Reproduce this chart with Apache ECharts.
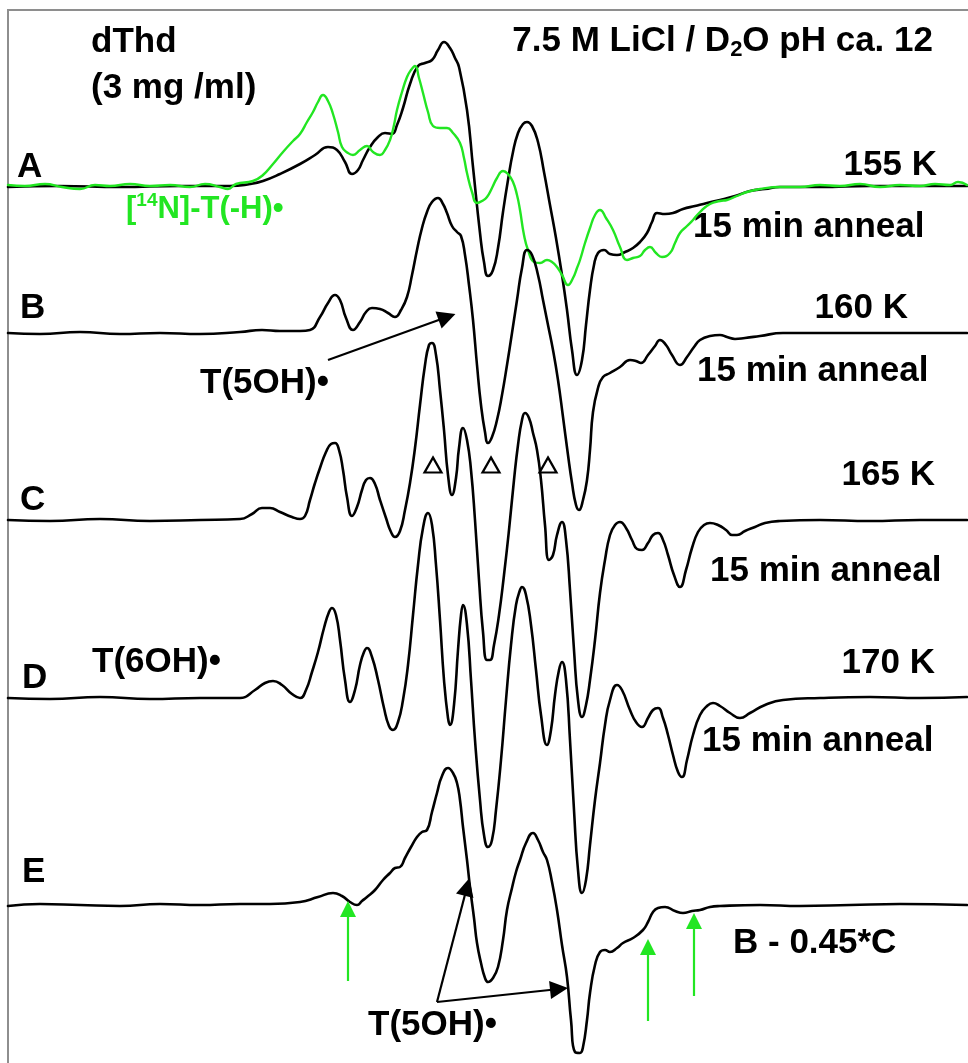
<!DOCTYPE html>
<html>
<head>
<meta charset="utf-8">
<script src="https://cdn.jsdelivr.net/npm/echarts@6/dist/echarts.min.js"></script>
<style>
  html, body { margin: 0; padding: 0; background: #fff; }
  #chart { width: 968px; height: 1063px; }
</style>
</head>
<body>
<div id="chart"></div>
<script>
// spectra: [field position, plotted offset]
const traceA = [[8,187],[60,186],[120,187],[180,186],[230,186],[250,184],[263,181],[280,174],[300,164],[315,155],[328,147],[337,150],[345,162],[352,174],[358,170],[363,160],[370,147],[378,137],[385,133],[392,134],[397,125],[403,108],[410,84],[418,66],[425,63],[432,60],[438,50],[444,42],[450,48],[455,58],[459,67],[467,110],[473,167],[480,233],[484,262],[488,276],[493,270],[498,248],[503,212],[508,180],[513,152],[518,133],[523,124],[527,122],[532,126],[538,142],[544,172],[550,205],[556,238],[562,275],[567,310],[572,350],[577,375],[582,360],[586,325],[590,290],[594,265],[598,253],[604,250],[610,254],[617,255],[625,252],[633,248],[640,242],[647,233],[652,222],[657,213],[665,214],[673,213],[683,209],[695,206],[707,203],[720,200],[735,196],[750,191],[765,189],[780,187],[820,187],[870,186],[920,186],[967,186]];

const traceAGreen = [[8,185],[25,186],[45,184],[62,187],[80,189],[95,185],[110,186],[130,184],[150,186],[170,185],[190,187],[205,184],[220,187],[228,189],[236,184],[253,181],[263,175],[273,164],[283,152],[293,141],[300,134],[307,122],[313,112],[318,102],[323,95],[328,101],[333,114],[338,132],[342,147],[348,153],[353,155],[360,150],[367,146],[373,152],[380,155],[385,150],[390,140],[394,125],[397,110],[402,92],[407,77],[411,70],[415,66],[419,78],[423,93],[428,112],[433,126],[440,128],[447,128],[453,133],[460,143],[464,158],[467,173],[472,192],[477,203],[482,201],[487,197],[492,188],[497,178],[503,171],[508,174],[513,182],[517,195],[520,210],[524,235],[528,250],[534,262],[540,263],[547,260],[552,262],[557,267],[562,275],[568,285],[573,278],[577,268],[580,260],[585,243],[590,228],[595,215],[600,210],[606,218],[613,230],[620,247],[627,260],[633,258],[640,256],[645,250],[650,247],[656,253],[662,257],[670,253],[675,243],[680,233],[687,226],[693,220],[700,212],[710,204],[720,201],[727,200],[737,196],[747,192],[760,189],[780,187],[800,187],[820,185],[840,186],[860,184],[880,187],[900,185],[920,186],[935,184],[950,185],[958,182],[967,185]];

const traceB = [[8,333],[40,334],[80,332],[120,334],[160,333],[200,334],[240,332],[262,330],[280,331],[300,331],[310,330],[320,317],[328,303],[335,295],[340,300],[346,318],[353,330],[360,322],[366,312],[372,308],[380,309],[388,313],[395,317],[401,310],[407,297],[412,275],[417,250],[422,228],[427,212],[432,202],[438,198],[443,204],[447,213],[452,226],[457,232],[461,236],[465,255],[469,285],[473,320],[477,365],[481,405],[485,432],[488,443],[492,437],[497,420],[502,395],[507,365],[512,333],[517,300],[522,268],[527,250],[532,255],[538,275],[543,300],[548,325],[553,350],[558,380],[563,417],[568,455],[572,483],[576,505],[579,510],[583,500],[587,480],[590,450],[593,412],[598,388],[603,377],[610,373],[620,367],[630,360],[636,361],[641,363],[648,355],[655,346],[660,340],[666,345],[672,355],[680,365],[687,357],[694,347],[700,340],[710,336],[720,335],[727,337],[735,339],[745,338],[760,336],[783,333],[830,333],[880,333],[930,333],[967,333]];

const traceC = [[8,520],[50,521],[100,519],[150,521],[200,520],[240,519],[252,514],[262,508],[270,508],[280,512],[292,517],[300,519],[305,516],[310,500],[315,483],[320,468],[326,452],[331,444],[335,443],[339,450],[343,470],[347,497],[352,516],[357,507],[362,490],[366,480],[370,478],[375,484],[380,500],[386,518],[391,532],[395,537],[400,531],[405,510],[410,483],[415,448],[420,405],[425,365],[429,345],[432,343],[436,355],[440,390],[444,430],[448,475],[452,495],[456,478],[459,448],[463,428],[467,440],[471,470],[475,520],[479,580],[483,632],[487,660],[490,660],[494,645],[499,615],[504,575],[509,530],[514,480],[518,445],[522,420],[525,413],[529,418],[533,433],[537,450],[541,480],[545,525],[549,560],[553,555],[557,535],[562,522],[566,540],[570,590],[574,650],[578,700],[582,717],[586,705],[590,680],[595,640],[600,593],[605,560],[610,535],[615,525],[620,522],[626,528],[632,540],[637,549],[642,550],[648,543],[653,535],[658,533],[663,540],[668,555],[674,575],[680,587],[686,570],[692,548],[698,532],[704,525],[710,523],[718,525],[726,530],[732,535],[737,535],[745,531],[755,527],[765,523],[780,521],[820,520],[870,521],[920,520],[967,520]];

const traceD = [[8,698],[50,699],[100,697],[150,699],[200,698],[240,698],[255,690],[265,683],[273,681],[282,685],[292,694],[300,698],[306,690],[312,672],[318,652],[324,628],[329,612],[332,608],[336,615],[340,640],[345,680],[350,702],[355,690],[360,665],[364,652],[367,648],[372,657],[378,680],[384,708],[389,726],[393,730],[398,722],[403,700],[408,665],[413,615],[418,565],[423,528],[428,513],[432,525],[436,565],[440,620],[444,680],[448,718],[450,725],[454,705],[458,650],[461,615],[463,605],[467,625],[471,680],[475,740],[480,800],[484,835],[488,847],[492,840],[496,810],[501,760],[506,700],[511,645],[516,605],[520,590],[522,587],[526,595],[531,625],[536,670],[541,715],[547,745],[551,730],[555,695],[559,670],[562,662],[566,680],[570,740],[574,810],[578,870],[582,893],[586,880],[590,845],[595,800],[600,763],[605,725],[610,700],[617,685],[622,690],[630,710],[636,722],[642,727],[648,718],[653,710],[658,708],[663,718],[668,735],[673,755],[678,772],[682,777],[687,760],[693,735],[700,715],[707,706],[713,703],[720,706],[730,713],[740,718],[750,713],[765,705],[783,700],[820,698],[870,697],[920,698],[967,697]];

const traceE = [[8,906],[40,904],[80,905],[120,906],[160,904],[200,905],[240,904],[270,904],[300,902],[318,897],[333,893],[342,896],[350,902],[357,905],[362,901],[367,897],[375,890],[383,880],[390,873],[395,868],[400,867],[405,858],[411,847],[417,837],[422,832],[427,830],[432,812],[437,793],[442,776],[448,768],[453,773],[457,783],[460,800],[463,827],[467,860],[470,887],[474,918],[477,943],[481,963],[485,978],[488,982],[493,978],[498,967],[503,940],[507,910],[512,888],[516,872],[520,860],[526,843],[533,833],[538,840],[543,852],[547,860],[552,882],[557,910],[562,945],[567,977],[571,1020],[575,1052],[580,1053],[583,1047],[587,1020],[590,993],[595,965],[600,952],[605,950],[610,952],[617,948],[623,943],[633,938],[643,930],[648,922],[653,912],[658,908],[665,907],[675,911],[683,913],[692,911],[700,910],[710,907],[720,906],[760,905],[800,906],[850,905],[900,904],[967,905]];

// open triangles marking lines in C
const triangleMarks = [[433,465],[491,465],[548,465]];

// black pointer arrows [from, to]
const blackArrows = [
  [[328,360],[447,317]],
  [[437,1002],[467,887]],
  [[437,1002],[559,989]]
];
// green up arrows [from, to]
const greenArrows = [
  [[348,981],[348,909]],
  [[648,1021],[648,947]],
  [[694,996],[694,921]]
];

const GREEN = '#22e622';
const FAMILY = '"Liberation Sans", Arial, Helvetica, sans-serif';
const font = 'bold 35px ' + FAMILY;

const chart = echarts.init(document.getElementById('chart'), null, { renderer: 'canvas' });

function spectrum(data, color, width) {
  return {
    type: 'line',
    data: data,
    showSymbol: false,
    smooth: 0.5,
    lineStyle: { color: color, width: width, join: 'round', cap: 'round' },
    silent: true,
    z: 2
  };
}

function txt(text, x, y, align) {
  return {
    type: 'text',
    x: x,
    y: y,
    silent: true,
    style: { text: text, font: font, fill: '#000', align: align || 'left', verticalAlign: 'middle' }
  };
}

const option = {
  animation: false,
  backgroundColor: '#fff',
  grid: { left: 0, right: 0, top: 0, bottom: 0 },
  xAxis: { type: 'value', min: 0, max: 968, show: false },
  yAxis: { type: 'value', min: 0, max: 1063, inverse: true, show: false },
  series: [
    spectrum(traceA, '#000', 2.6),
    spectrum(traceAGreen, GREEN, 2.4),
    spectrum(traceB, '#000', 2.6),
    spectrum(traceC, '#000', 2.6),
    spectrum(traceD, '#000', 2.6),
    spectrum(traceE, '#000', 2.6),
    {
      type: 'scatter',
      data: triangleMarks,
      symbol: 'triangle',
      symbolSize: [17, 15],
      itemStyle: { color: '#fff', borderColor: '#000', borderWidth: 2.2, opacity: 1 },
      silent: true,
      z: 3
    },
    {
      type: 'lines',
      coordinateSystem: 'cartesian2d',
      data: blackArrows.map(c => ({ coords: c })),
      symbol: ['none', 'triangle'],
      symbolSize: [15, 18],
      lineStyle: { color: '#000', width: 2.2, curveness: 0, opacity: 1 },
      silent: true,
      z: 4
    },
    {
      type: 'lines',
      coordinateSystem: 'cartesian2d',
      data: greenArrows.map(c => ({ coords: c })),
      symbol: ['none', 'triangle'],
      symbolSize: [16, 16],
      lineStyle: { color: GREEN, width: 2.2, curveness: 0, opacity: 1 },
      silent: true,
      z: 4
    }
  ],
  graphic: [
    {
      type: 'rect',
      shape: { x: 8, y: 10, width: 964, height: 1064 },
      style: { fill: 'none', stroke: '#8e8e8e', lineWidth: 2 },
      silent: true
    },
    txt('dThd', 91, 42),
    txt('(3 mg /ml)', 91, 88),
    {
      type: 'text',
      x: 933,
      y: 41,
      silent: true,
      style: {
        text: '{n|7.5 M LiCl / D}{s|2}{n|O pH ca. 12}',
        align: 'right',
        verticalAlign: 'middle',
        fill: '#000',
        rich: {
          n: { fontSize: 35, fontWeight: 'bold', fontFamily: FAMILY, lineHeight: 40, fill: '#000' },
          s: { fontSize: 22, fontWeight: 'bold', fontFamily: FAMILY, lineHeight: 20, verticalAlign: 'bottom', fill: '#000' }
        }
      }
    },
    txt('A', 17, 167),
    txt('155 K', 937, 165, 'right'),
    {
      type: 'text',
      x: 126,
      y: 209,
      silent: true,
      style: {
        text: '{n|[}{s|14}{n|N]-T(-H)•}',
        align: 'left',
        verticalAlign: 'middle',
        fill: GREEN,
        rich: {
          n: { fontSize: 31, fontWeight: 'bold', fontFamily: FAMILY, lineHeight: 36, fill: GREEN },
          s: { fontSize: 19, fontWeight: 'bold', fontFamily: FAMILY, lineHeight: 20, verticalAlign: 'top', fill: GREEN }
        }
      }
    },
    txt('15 min anneal', 693, 227),
    txt('B', 20, 308),
    txt('160 K', 908, 308, 'right'),
    txt('T(5OH)•', 200, 383),
    txt('15 min anneal', 697, 371),
    txt('C', 20, 500),
    txt('165 K', 935, 475, 'right'),
    txt('15 min anneal', 710, 571),
    txt('D', 22, 678),
    txt('T(6OH)•', 92, 662),
    txt('170 K', 935, 663, 'right'),
    txt('15 min anneal', 702, 741),
    txt('E', 22, 872),
    txt('B - 0.45*C', 733, 943),
    txt('T(5OH)•', 368, 1025)
  ]
};

chart.setOption(option);
window.addEventListener('resize', () => chart.resize());
</script>
</body>
</html>
